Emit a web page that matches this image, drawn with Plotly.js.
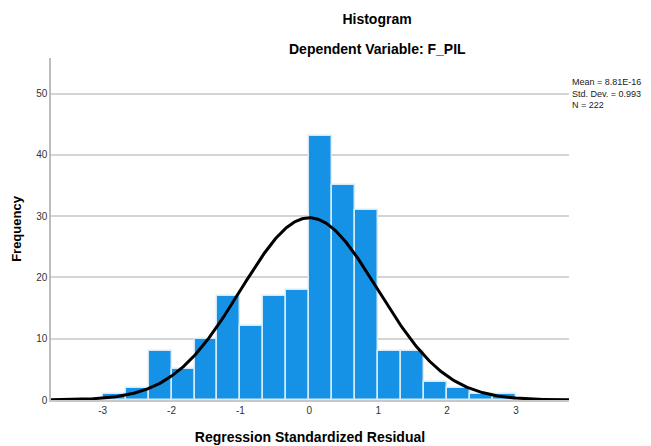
<!DOCTYPE html>
<html>
<head>
<meta charset="utf-8">
<script src="https://cdn.plot.ly/plotly-3.0.1.min.js"></script>
<style>html,body{margin:0;padding:0;background:#fff;}#chart{width:651px;height:446px;}</style>
</head>
<body>
<div id="chart"></div>
<script>
// Histogram bins (lower edges) and frequencies
const binLowerEdges = [-3, -2.6667, -2.3333, -2, -1.6667, -1.3333, -1, -0.6667, -0.3333, 0, 0.3333, 0.6667, 1, 1.3333, 1.6667, 2, 2.3333, 2.6667];
const frequencies   = [1, 2, 8, 5, 10, 17, 12, 17, 18, 43, 35, 31, 8, 8, 3, 2, 1, 1];
const binWidth = 1 / 3;

// Summary statistics shown on the chart
const statMean = 8.81e-16;
const statSD = 0.993;
const statN = 222;
const statLabels = ["Mean = 8.81E-16", "Std. Dev. = 0.993", "N = 222"];

const xTickVals = [-3, -2, -1, 0, 1, 2, 3];
const yTickVals = [0, 10, 20, 30, 40, 50];

const titleText = "Histogram";
const subtitleText = "Dependent Variable: F_PIL";
const xTitle = "Regression Standardized Residual";
const yTitle = "Frequency";

const xRange = [-3.75, 3.77];
const yRange = [0, 55.8];

const binCenters = binLowerEdges.map(e => e + binWidth / 2);

// Fitted normal curve from the stated mean, SD and N
const curveX = [], curveY = [];
for (let i = 0; i <= 400; i++) {
  const x = xRange[0] + (xRange[1] - xRange[0]) * i / 400;
  const z = (x - statMean) / statSD;
  curveX.push(x);
  curveY.push(statN * binWidth * Math.exp(-0.5 * z * z) / (statSD * Math.sqrt(2 * Math.PI)));
}

const font = "Liberation Sans, Arial, sans-serif";

const traces = [
  {
    type: "bar",
    x: binCenters,
    y: frequencies,
    width: binWidth,
    marker: { color: "#1591e6", line: { color: "#d6ebfa", width: 1.5 } },
    hoverinfo: "x+y",
    showlegend: false
  },
  {
    type: "scatter",
    mode: "lines",
    x: curveX,
    y: curveY,
    line: { color: "#000000", width: 3 },
    hoverinfo: "skip",
    showlegend: false
  }
];

const layout = {
  width: 651,
  height: 446,
  margin: { l: 51, r: 82, t: 58, b: 46 },
  paper_bgcolor: "#ffffff",
  plot_bgcolor: "#ffffff",
  font: { family: font, color: "#000" },
  bargap: 0,
  title: {
    text: "<b>" + titleText + "</b>",
    font: { family: font, size: 14, color: "#000" },
    xref: "container", yref: "container",
    x: 377 / 651, xanchor: "center",
    y: 1 - 19.5 / 446, yanchor: "middle"
  },
  xaxis: {
    range: xRange,
    tickvals: xTickVals,
    ticktext: xTickVals.map(String),
    ticks: "",
    showgrid: false,
    zeroline: false,
    showline: true,
    linecolor: "#c8c8c8",
    linewidth: 1.5,
    tickfont: { family: font, size: 10, color: "#333" },
    title: { text: "<b>" + xTitle + "</b>", font: { family: font, size: 14, color: "#000" }, standoff: 17 },
    automargin: false,
    fixedrange: true
  },
  yaxis: {
    range: yRange,
    tickvals: yTickVals,
    ticks: "",
    showgrid: true,
    gridcolor: "#d4d4d4",
    gridwidth: 1.5,
    zeroline: false,
    showline: true,
    linecolor: "#bdbdbd",
    linewidth: 1.5,
    tickfont: { family: font, size: 10, color: "#333" },
    title: { text: "<b>" + yTitle + "</b>", font: { family: font, size: 13, color: "#000" }, standoff: 12 },
    automargin: false,
    fixedrange: true
  },
  annotations: [
    {
      text: "<b>" + subtitleText + "</b>",
      xref: "paper", yref: "paper",
      x: (377 - 51) / 518, y: (400 - 48.5) / 342,
      xanchor: "center", yanchor: "middle",
      showarrow: false,
      font: { family: font, size: 14, color: "#000" }
    },
    {
      text: statLabels.join("<br>"),
      xref: "paper", yref: "paper",
      x: (571 - 51) / 518, y: (400 - 93.5) / 342,
      xanchor: "left", yanchor: "middle", align: "left",
      showarrow: false, borderpad: 0,
      font: { family: font, size: 9, color: "#222" }
    }
  ]
};

Plotly.newPlot("chart", traces, layout, { displayModeBar: false });
</script>
</body>
</html>
